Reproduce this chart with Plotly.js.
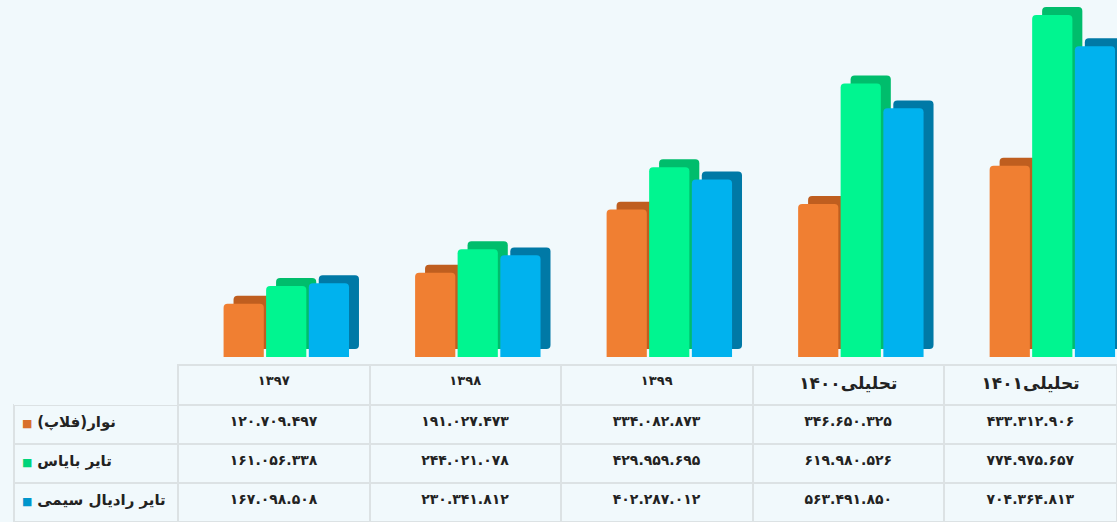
<!DOCTYPE html>
<html>
<head>
<meta charset="utf-8">
<script src="https://cdn.plot.ly/plotly-3.0.1.min.js"></script>
<style>
  html, body { margin: 0; padding: 0; background: #F1F9FC; }
  #chart { width: 1117px; height: 522px; }
</style>
</head>
<body>
<div id="chart"></div>
<script>
// ---- data ----
const categories = ['۱۳۹۷', '۱۳۹۸', '۱۳۹۹', 'تحلیلی۱۴۰۰', 'تحلیلی۱۴۰۱'];
const seriesNames = ['نوار(فلاپ)\u200F', 'تایر بایاس', 'تایر رادیال سیمی'];
const flapValues   = [120709497, 191027473, 334082873, 346650325, 433312906];
const biasValues   = [161056338, 244021078, 429959695, 619980526, 774975657];
const radialValues = [167098508, 230341812, 402287012, 563491850, 704364813];

// ---- styles ----
const frontColors = ['#F07F32', '#00F590', '#00B2EE'];
const depthColors = ['#BF5E1F', '#00BD6C', '#0079A6'];
const squareColors = ['#D8702A', '#00D47A', '#0096CC'];
const offsets = [-0.262, -0.04, 0.183];
const barWidth = 0.21;
const depthX = 0.052;
const depthY = 18e6;

const allValues = [flapValues, biasValues, radialValues];

function toPersian(n) {
  const s = String(n).replace(/\B(?=(\d{3})+(?!\d))/g, '.');
  return s.replace(/\d/g, d => '۰۱۲۳۴۵۶۷۸۹'[+d]);
}
const nb = s => s.replace(/ /g, '\u00A0');

const traces = [];
// depth (side/top) faces behind
allValues.forEach((vals, i) => {
  traces.push({
    type: 'bar', x: categories, y: vals,
    base: vals.map(() => depthY),
    offset: offsets[i] + depthX, width: barWidth,
    marker: { color: depthColors[i], cornerradius: 4, line: { width: 0 } },
    hoverinfo: 'skip', showlegend: false, xaxis: 'x', yaxis: 'y'
  });
});
// front faces
allValues.forEach((vals, i) => {
  traces.push({
    type: 'bar', x: categories, y: vals,
    offset: offsets[i], width: barWidth,
    marker: { color: frontColors[i], cornerradius: 4, line: { width: 0 } },
    name: seriesNames[i], hoverinfo: 'skip', showlegend: false,
    xaxis: 'x', yaxis: 'y'
  });
});

// data table
const headerVals = [''].concat(categories.map(c => '<b>' + c + '</b>'));
const rowLabels = seriesNames.map((n, i) =>
  '<span style="color:' + squareColors[i] + ';font-size:11px">■</span>\u00A0<b>' + nb(n) + '</b><br>');
const cellCols = [rowLabels];
categories.forEach((c, j) => {
  cellCols.push(allValues.map(v => '<b>' + toPersian(v[j]) + '</b>'));
});

traces.push({
  type: 'table',
  domain: { x: [14 / 1117, 1], y: [0, 157 / 522] },
  columnwidth: [164, 191.5, 191.5, 191.5, 191.5, 173],
  header: {
    values: headerVals,
    align: 'center',
    height: 40,
    fill: { color: '#F1F9FC' },
    line: { color: ['rgba(0,0,0,0)', '#DCE2E4', '#DCE2E4', '#DCE2E4', '#DCE2E4', '#DCE2E4'], width: 2 },
    font: { family: 'DejaVu Sans, Noto Sans, sans-serif', size: [13, 13, 13, 13, 17, 17], color: '#222' }
  },
  cells: {
    values: cellCols,
    align: ['left', 'center', 'center', 'center', 'center', 'center'],
    height: 39,
    fill: { color: '#F1F9FC' },
    line: { color: '#DCE2E4', width: 2 },
    font: { family: 'DejaVu Sans, Noto Sans, sans-serif', size: [15, 14, 14, 14, 14, 14], color: '#222' }
  }
});

const layout = {
  width: 1117, height: 522,
  paper_bgcolor: '#F1F9FC', plot_bgcolor: '#F1F9FC',
  margin: { l: 0, r: 0, t: 0, b: 0 },
  barmode: 'overlay',
  showlegend: false,
  xaxis: {
    domain: [178 / 1117, 1], type: 'category', range: [-0.5, 4.403],
    showticklabels: false, showgrid: false, zeroline: false, showline: false, fixedrange: true
  },
  yaxis: {
    domain: [165 / 522, 1], range: [0, 809e6],
    showticklabels: false, showgrid: false, zeroline: false, showline: false, fixedrange: true
  },
  font: { family: 'DejaVu Sans, Noto Sans, sans-serif' }
};

Plotly.newPlot('chart', traces, layout, { displayModeBar: false, staticPlot: true });
</script>
</body>
</html>
